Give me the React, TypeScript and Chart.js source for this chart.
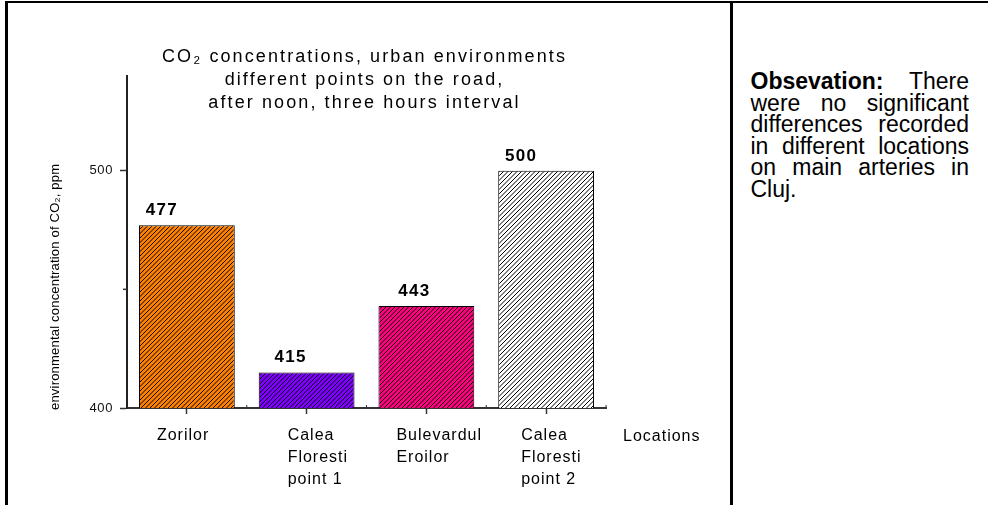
import React, { useEffect, useRef } from 'react';
import { Chart, registerables } from 'chart.js';

Chart.register(...registerables);

// ---------- data ----------
const categories: string[][] = [
  ['Zorilor'],
  ['Calea', 'Floresti', 'point 1'],
  ['Bulevardul', 'Eroilor'],
  ['Calea', 'Floresti', 'point 2'],
];
const values: number[] = [477, 415, 443, 500];
const barColors: string[] = ['#FF8000', '#8000FF', '#FF0080', '#FFFFFF'];
const yTickValues: number[] = [400, 450, 500];
const yLabeledTicks: number[] = [400, 500];
const yMin = 400;
const yMax = 540;
const titleLines: string[] = [
  'CO\u2082 concentrations, urban environments',
  'different points on the road,',
  'after noon, three hours interval',
];
const yTitle = 'environmental concentration of CO\u2082, ppm';
const xTitle = 'Locations';

// ---------- styling (label nudges, relative to scale pixels) ----------
const xLabelDx: number[] = [-30, -19, -30, -25];
const valueLabelDx: number[] = [-25, -16, -12, -25];

const FONT = '"Liberation Sans", Arial, Helvetica, sans-serif';

function hatch(color: string): CanvasPattern | string {
  const c = document.createElement('canvas');
  c.width = 9;
  c.height = 9;
  const g = c.getContext('2d');
  if (!g) return color;
  g.fillStyle = color;
  g.fillRect(0, 0, 9, 9);
  g.strokeStyle = '#000';
  g.lineWidth = 1;
  for (let k = 0; k <= 18; k += 4.5) {
    g.beginPath();
    g.moveTo(-2, k + 2);
    g.lineTo(k + 2, -2);
    g.stroke();
  }
  const p = g.createPattern(c, 'repeat');
  return p || color;
}

const textPlugin = {
  id: 'customText',
  beforeDraw(chart: any) {
    chart.ctx.letterSpacing = '0.6px';
  },
  afterDraw(chart: any) {
    const ctx: CanvasRenderingContext2D = chart.ctx;
    const area = chart.chartArea;
    const xs = chart.scales.x;
    const ys = chart.scales.y;
    ctx.save();
    ctx.fillStyle = '#000';
    ctx.strokeStyle = '#333';

    // minor y tick at 450
    ctx.lineWidth = 1.5;
    const py = ys.getPixelForValue(450);
    ctx.beginPath();
    ctx.moveTo(area.left - 4, py);
    ctx.lineTo(area.left, py);
    ctx.stroke();

    // small boundary ticks on x axis
    const half = (xs.getPixelForValue(1) - xs.getPixelForValue(0)) / 2;
    ctx.lineWidth = 1;
    for (let i = 0; i < categories.length; i++) {
      const bx = xs.getPixelForValue(i) + half;
      ctx.beginPath();
      ctx.moveTo(bx, area.bottom);
      ctx.lineTo(bx, area.bottom - 3);
      ctx.stroke();
    }

    // title
    (ctx as any).letterSpacing = '2.1px';
    ctx.font = `18px ${FONT}`;
    ctx.textAlign = 'center';
    ctx.textBaseline = 'middle';
    const cx = (area.left + area.right) / 2 - 2;
    titleLines.forEach((t, i) => ctx.fillText(t, cx, area.top - 18.5 + i * 23));

    // value labels
    (ctx as any).letterSpacing = '1.3px';
    ctx.font = `bold 17px ${FONT}`;
    ctx.textBaseline = 'alphabetic';
    const meta = chart.getDatasetMeta(0);
    meta.data.forEach((el: any, i: number) => {
      ctx.fillText(String(values[i]), el.x + valueLabelDx[i], el.y - 10);
    });

    // category labels
    (ctx as any).letterSpacing = '1px';
    ctx.font = `16px ${FONT}`;
    ctx.textAlign = 'left';
    ctx.textBaseline = 'middle';
    categories.forEach((lines, i) => {
      const lx = xs.getPixelForValue(i) + xLabelDx[i];
      lines.forEach((ln, j) => ctx.fillText(ln, lx, area.bottom + 28 + j * 22));
    });

    // x title
    ctx.fillText(xTitle, xs.right + 17, area.bottom + 29);

    // y title
    (ctx as any).letterSpacing = '0.2px';
    ctx.font = `13px ${FONT}`;
    ctx.translate(55, area.bottom + 2);
    ctx.rotate(-Math.PI / 2);
    ctx.textAlign = 'left';
    ctx.textBaseline = 'middle';
    ctx.fillText(yTitle, 0, 0);
    ctx.restore();
  },
};

export default function App() {
  const canvasRef = useRef<HTMLCanvasElement | null>(null);

  useEffect(() => {
    const canvas = canvasRef.current;
    if (!canvas) return;
    const chart = new Chart(canvas, {
      type: 'bar',
      data: {
        labels: categories.map((c) => c.join(' ')),
        datasets: [
          {
            data: values,
            backgroundColor: barColors.map(hatch) as any,
            borderColor: '#000',
            borderWidth: 1,
            barPercentage: 0.8,
            categoryPercentage: 1,
          },
        ],
      },
      options: {
        animation: false,
        responsive: true,
        maintainAspectRatio: false,
        devicePixelRatio: 1,
        layout: { padding: { left: 0, top: 75.7, right: 124, bottom: 87 } },
        plugins: {
          legend: { display: false },
          tooltip: { enabled: false },
          title: { display: false },
        },
        scales: {
          x: {
            type: 'category',
            offset: true,
            grid: {
              display: true,
              drawOnChartArea: false,
              drawTicks: true,
              tickLength: 6,
              offset: false,
              tickColor: '#333',
              tickWidth: 1.5,
            },
            border: { display: true, color: '#333', width: 2 },
            ticks: { display: false },
            afterFit: (s: any) => {
              s.height = 10;
            },
          },
          y: {
            min: yMin,
            max: yMax,
            afterBuildTicks: (s: any) => {
              s.ticks = yTickValues.map((v) => ({ value: v }));
            },
            ticks: {
              callback: (v: any) => (yLabeledTicks.includes(Number(v)) ? String(v) : ''),
              font: { size: 13, family: FONT },
              color: '#111',
              padding: 7,
            },
            grid: {
              drawOnChartArea: false,
              drawTicks: true,
              tickLength: 7,
              tickColor: (c: any) => (c.tick && c.tick.value === 450 ? 'rgba(0,0,0,0)' : '#333'),
              tickWidth: 1.5,
            },
            border: { display: true, color: '#222', width: 2 },
            afterFit: (s: any) => {
              s.width = 127;
            },
          },
        },
      },
      plugins: [textPlugin],
    });
    return () => chart.destroy();
  }, []);

  const lineStyle: React.CSSProperties = {
    textAlign: 'justify',
    textAlignLast: 'justify' as any,
    whiteSpace: 'nowrap',
    height: '21.5px',
    lineHeight: '21.5px',
  };

  return (
    <div style={{ position: 'absolute', left: 0, top: 0, width: 988, height: 505, background: '#fff', overflow: 'hidden' }}>
      <div style={{ position: 'absolute', left: 0, top: 0, width: 730, height: 505 }}>
        <canvas ref={canvasRef} />
      </div>
      {/* frame */}
      <div style={{ position: 'absolute', left: 5, top: 0.5, width: 983, height: 2.5, background: '#000' }} />
      <div style={{ position: 'absolute', left: 5, top: 0.5, width: 2.5, height: 505, background: '#000' }} />
      <div style={{ position: 'absolute', left: 730, top: 0.5, width: 2.5, height: 505, background: '#000' }} />
      {/* observation panel */}
      <div
        style={{
          position: 'absolute',
          left: 750.5,
          top: 71,
          width: 218.5,
          fontFamily: FONT,
          fontSize: 23,
          color: '#000',
        }}
      >
        <div style={{ ...lineStyle, whiteSpace: 'normal' }}>
          <b>Obsevation:</b> There
        </div>
        <div style={lineStyle}>were no significant</div>
        <div style={lineStyle}>differences recorded</div>
        <div style={lineStyle}>in different locations</div>
        <div style={lineStyle}>on main arteries in</div>
        <div style={{ ...lineStyle, textAlignLast: 'left' as any }}>Cluj.</div>
      </div>
    </div>
  );
}
